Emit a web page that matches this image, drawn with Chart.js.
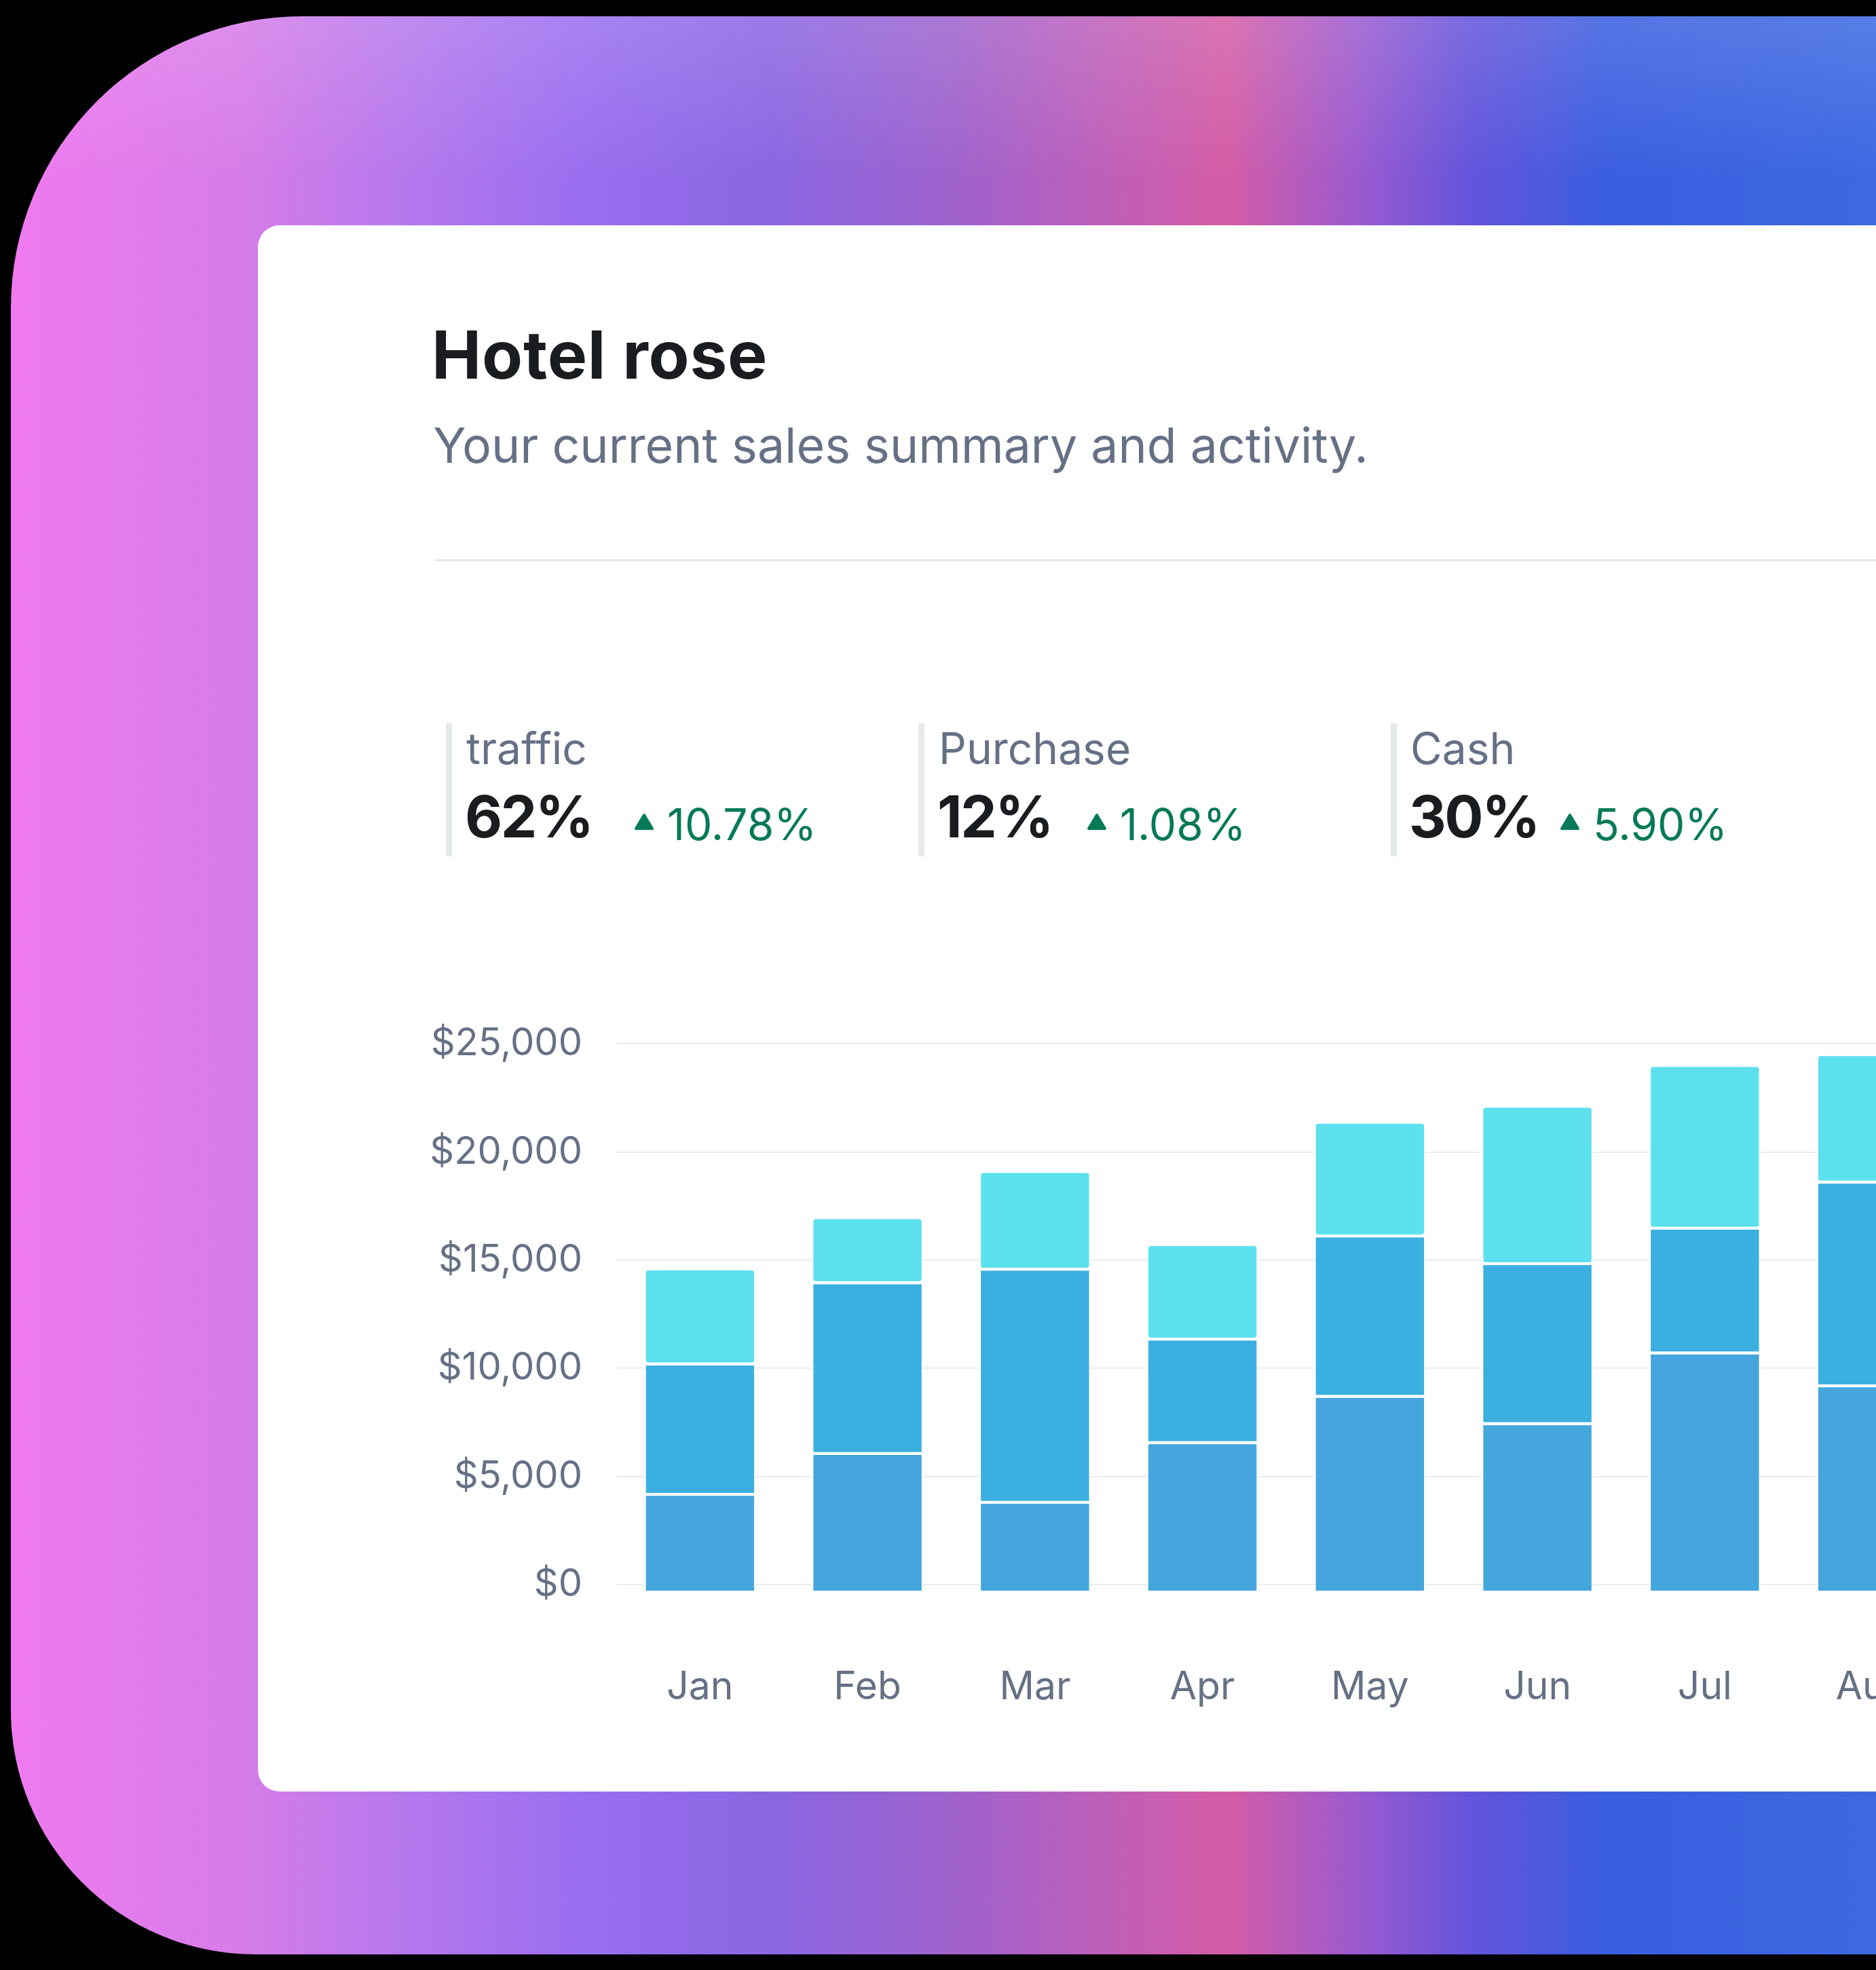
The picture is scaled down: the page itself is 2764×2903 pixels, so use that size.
<!DOCTYPE html>
<html>
<head>
<meta charset="utf-8">
<script src="https://cdn.jsdelivr.net/npm/chart.js@4.4.1/dist/chart.umd.min.js"></script>
<style>
  html, body { margin:0; padding:0; width:2764px; height:2903px; overflow:hidden; background:#000; }
  #frame {
    position:absolute; left:16px; top:24px; width:2800px; height:2856px;
    border-radius:430px 0 0 360px;
    background:
      linear-gradient(180deg, rgba(255,255,255,0.14) 0px, rgba(255,255,255,0) 240px),
      linear-gradient(90deg,
        #f07af0 0%, #d67ce8 12%, #b878ec 20%, #9a6ef0 30%, #8a66e2 40%,
        #a062cc 50%, #c05fb8 58%, #d45ca6 64%, #9a5ad0 71%, #6254dc 77%, #3a5ee0 84%, #3c6ae2 100%);
  }
  #card { position:absolute; left:380px; top:332px; width:2600px; height:2308px; background:#fff; border-radius:32px; }
  .t { position:absolute; white-space:nowrap; line-height:1; font-family:Inter, "Noto Sans", sans-serif; }
  #title { left:636px; top:474.4px; font-size:98px; font-weight:700; color:#1a1c20; letter-spacing:0.8px; }
  #subtitle { left:638px; top:621px; font-size:71.6px; font-weight:400; color:#667085; }
  #divider { position:absolute; left:640px; top:824px; width:2200px; height:3px; background:#e6e8ec; }
  .kbar { position:absolute; top:1066px; width:9px; height:196px; background:#e6e8ec; }
  .klabel { font-size:64px; font-weight:400; color:#667085; top:1071px; }
  .knum { font-size:85px; font-weight:700; color:#1a1c20; top:1160.6px; letter-spacing:-2.5px; }
  .kpct { font-size:64px; font-weight:400; color:#067a57; top:1183px; }
  .ktri { position:absolute; top:1198px; width:30px; height:26px; }
  #chart { position:absolute; left:600px; top:1498px; }
</style>
</head>
<body>
<div id="frame"></div>
<div id="card"></div>
<div class="t" id="title">Hotel rose</div>
<div class="t" id="subtitle">Your current sales summary and activity.</div>
<div id="divider"></div>
<div id="kpis"></div>
<canvas id="chart" width="2282" height="1037"></canvas>
<script>
// ---- data ----
const months = ['Jan', 'Feb', 'Mar', 'Apr', 'May', 'Jun', 'Jul', 'Aug'];
const seriesBase = [4170, 6060, 3800, 6560, 8700, 7440, 10710, 9190];
const seriesMiddle = [6030, 7900, 10780, 4790, 7420, 7400, 5770, 9420];
const seriesTop = [4400, 3010, 4520, 4370, 5260, 7280, 7530, 5900];
const yTickValues = [0, 5000, 10000, 15000, 20000, 25000];

const kpiLabels = ['traffic', 'Purchase', 'Cash'];
const kpiValues = ['62%', '12%', '30%'];
const kpiChanges = ['10.78%', '1.08%', '5.90%'];

// ---- KPI layout ----
const kpiCols = [
  { bar: 657, text: 685, tri: 934, pct: 983 },
  { bar: 1353, text: 1381, tri: 1601, pct: 1650 },
  { bar: 2049, text: 2076, tri: 2298, pct: 2347 }
];
const kpiHost = document.getElementById('kpis');
kpiLabels.forEach((lab, i) => {
  const c = kpiCols[i];
  kpiHost.insertAdjacentHTML('beforeend',
    `<div class="kbar" style="left:${c.bar}px"></div>
     <div class="t klabel" style="left:${c.text + 2}px">${lab}</div>
     <div class="t knum" style="left:${c.text}px">${kpiValues[i]}</div>
     <svg class="ktri" style="left:${c.tri}px" viewBox="0 0 30 26"><path d="M15 3 L27 23 L3 23 Z" fill="#067a57" stroke="#067a57" stroke-width="4" stroke-linejoin="round"/></svg>
     <div class="t kpct" style="left:${c.pct}px">${kpiChanges[i]}</div>`);
});

// ---- chart ----
const FONT = 'Inter, "Noto Sans", sans-serif';
const common = {
  borderColor: '#ffffff', borderWidth: 2.2, borderSkipped: false, borderRadius: 6,
  barPercentage: 0.664, categoryPercentage: 1.0, clip: false
};
new Chart(document.getElementById('chart'), {
  type: 'bar',
  data: {
    labels: months,
    datasets: [
      Object.assign({ label: 'Base', data: seriesBase, backgroundColor: '#45a6dd', base: -355 }, common),
      Object.assign({ label: 'Middle', data: seriesMiddle, backgroundColor: '#3bb0e0' }, common),
      Object.assign({ label: 'Top', data: seriesTop, backgroundColor: '#5de0ee' }, common)
    ]
  },
  options: {
    responsive: false,
    animation: false,
    layout: { padding: { top: 40.4, right: 0, bottom: 0, left: 0 } },
    plugins: { legend: { display: false }, tooltip: { enabled: false } },
    scales: {
      x: {
        stacked: true,
        grid: { display: false },
        border: { display: false },
        ticks: { color: '#667085', font: { family: FONT, size: 57 }, padding: 110, maxRotation: 0, autoSkip: false },
        afterFit: s => { s.height = 200; s.paddingLeft = 0; s.paddingRight = 0; }
      },
      y: {
        stacked: true,
        min: 0, max: 25000,
        grid: { color: '#eaecf0', lineWidth: 2, drawTicks: false },
        border: { display: false },
        ticks: {
          color: '#667085', font: { family: FONT, size: 56 }, padding: 50,
          callback: v => '$' + Number(v).toLocaleString('en-US')
        },
        afterBuildTicks: s => { s.ticks = yTickValues.map(v => ({ value: v })); },
        afterFit: s => { s.width = 308; s.paddingTop = 0; s.paddingBottom = 0; }
      }
    }
  }
});
</script>
</body>
</html>
